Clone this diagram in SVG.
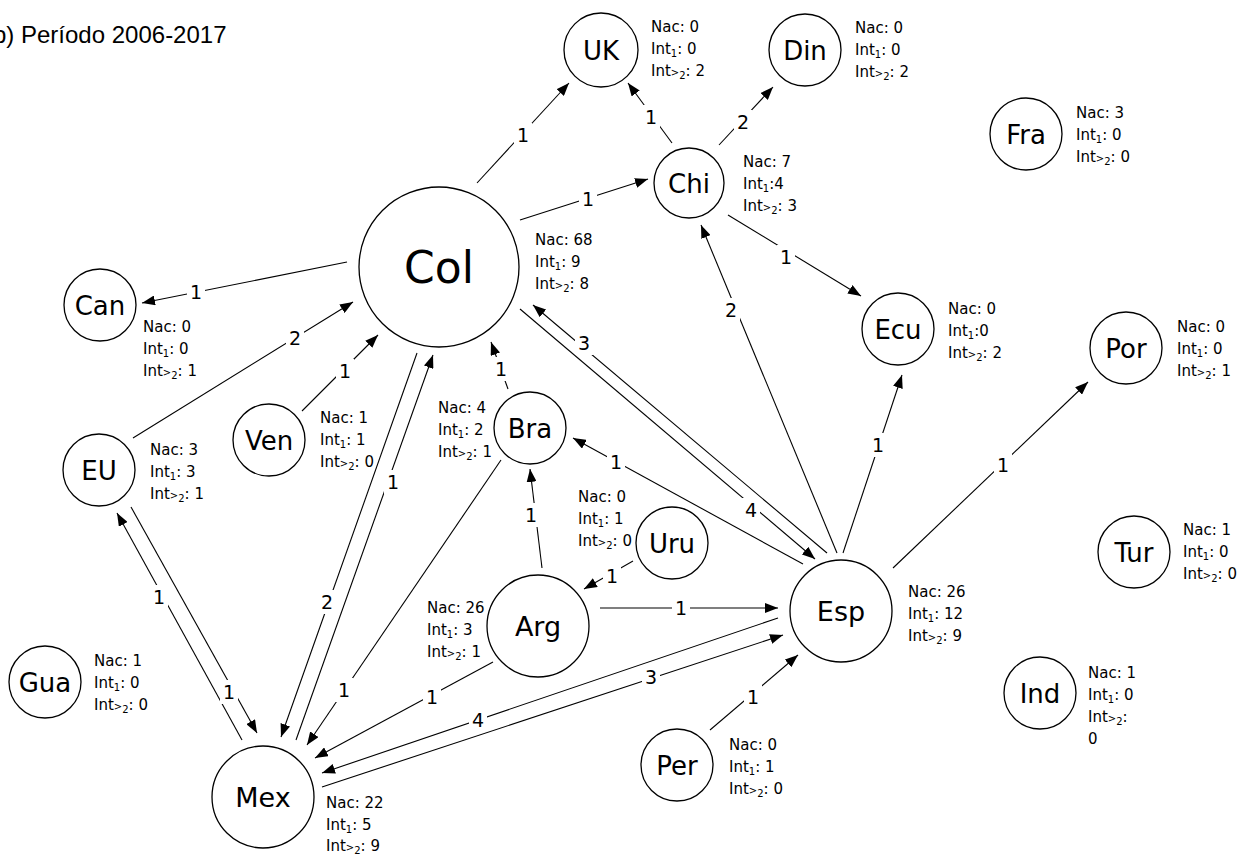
<svg xmlns="http://www.w3.org/2000/svg" width="1241" height="857" viewBox="0 0 1241 857">
<style>
.n circle{fill:#fff;stroke:#000;stroke-width:1.3}
.nl{font-family:"DejaVu Sans",sans-serif;font-size:26px;text-anchor:middle;fill:#000}
.big{font-size:27px}
.info{font-family:"DejaVu Sans",sans-serif;font-size:15px;fill:#000}
.s{font-size:10px}
.e line{stroke:#000;stroke-width:1.1;fill:none}
.e .a{marker-end:url(#ah)}
.lb rect{fill:#fff}
.lb text{font-family:"DejaVu Sans",sans-serif;font-size:19px;text-anchor:middle;fill:#000}
.title{font-family:"Liberation Sans",sans-serif;font-size:24px;fill:#000}
</style>
<defs>
<marker id="ah" markerUnits="userSpaceOnUse" markerWidth="14" markerHeight="10" refX="13" refY="5" orient="auto">
<path d="M0,0 L13,5 L0,10 z" fill="#000"/>
</marker>
</defs>
<rect width="1241" height="857" fill="#fff"/>
<text class="title" x="-7" y="43">b) Período 2006-2017</text>

<g id="connectors" class="e">
<line class="a" x1="477" y1="183" x2="569" y2="83"/>
<line class="a" x1="672" y1="143" x2="628" y2="83"/>
<line class="a" x1="719" y1="145" x2="773" y2="87"/>
<line class="a" x1="520" y1="220" x2="648" y2="179"/>
<line class="a" x1="728" y1="215" x2="861" y2="296"/>
<line class="a" x1="347" y1="262" x2="142" y2="303"/>
<line class="a" x1="133" y1="438" x2="353" y2="302"/>
<line class="a" x1="302" y1="411" x2="378" y2="335"/>
<line class="a" x1="508" y1="389" x2="491" y2="342"/>
<line class="a" x1="827" y1="553" x2="533" y2="305"/>
<line class="a" x1="520" y1="309" x2="815" y2="559"/>
<line class="a" x1="417" y1="353" x2="281" y2="737"/>
<line class="a" x1="296" y1="740" x2="433" y2="355"/>
<line class="a" x1="242" y1="740" x2="117" y2="513"/>
<line class="a" x1="131" y1="507" x2="257" y2="733"/>
<line class="a" x1="501" y1="460" x2="307" y2="745"/>
<line class="a" x1="493" y1="662" x2="315" y2="758"/>
<line class="a" x1="778" y1="618" x2="322" y2="773"/>
<line class="a" x1="322" y1="787" x2="783" y2="635"/>
<line class="a" x1="600" y1="608" x2="778" y2="608"/>
<line class="a" x1="633" y1="561" x2="584" y2="589"/>
<line class="a" x1="542" y1="568" x2="530" y2="469"/>
<line class="a" x1="803" y1="564" x2="573" y2="438"/>
<line class="a" x1="837" y1="553" x2="701" y2="225"/>
<line class="a" x1="843" y1="553" x2="902" y2="375"/>
<line class="a" x1="893" y1="568" x2="1088" y2="382"/>
<line class="a" x1="710" y1="730" x2="798" y2="655"/>
<g class="lb">
<rect x="514" y="123" width="18" height="24"/><text x="523" y="142">1</text>
<rect x="642" y="105" width="18" height="24"/><text x="651" y="124">1</text>
<rect x="734" y="110" width="18" height="24"/><text x="743" y="129">2</text>
<rect x="579" y="187" width="18" height="24"/><text x="588" y="206">1</text>
<rect x="777" y="245" width="18" height="24"/><text x="786" y="264">1</text>
<rect x="187" y="280" width="18" height="24"/><text x="196" y="299">1</text>
<rect x="286" y="326" width="18" height="24"/><text x="295" y="345">2</text>
<rect x="336" y="359" width="18" height="24"/><text x="345" y="378">1</text>
<rect x="492" y="357" width="18" height="24"/><text x="501" y="376">1</text>
<rect x="575" y="331" width="18" height="24"/><text x="584" y="350">3</text>
<rect x="742" y="498" width="18" height="24"/><text x="751" y="517">4</text>
<rect x="318" y="590" width="18" height="24"/><text x="327" y="609">2</text>
<rect x="384" y="470" width="18" height="24"/><text x="393" y="489">1</text>
<rect x="150" y="585" width="18" height="24"/><text x="159" y="604">1</text>
<rect x="220" y="680" width="18" height="24"/><text x="229" y="699">1</text>
<rect x="335" y="678" width="18" height="24"/><text x="344" y="697">1</text>
<rect x="423" y="685" width="18" height="24"/><text x="432" y="704">1</text>
<rect x="469" y="708" width="18" height="24"/><text x="478" y="727">4</text>
<rect x="642" y="665" width="18" height="24"/><text x="651" y="684">3</text>
<rect x="672" y="596" width="18" height="24"/><text x="681" y="615">1</text>
<rect x="603" y="564" width="18" height="24"/><text x="612" y="583">1</text>
<rect x="522" y="503" width="18" height="24"/><text x="531" y="522">1</text>
<rect x="607" y="450" width="18" height="24"/><text x="616" y="469">1</text>
<rect x="722" y="298" width="18" height="24"/><text x="731" y="317">2</text>
<rect x="869" y="433" width="18" height="24"/><text x="878" y="452">1</text>
<rect x="994" y="453" width="18" height="24"/><text x="1003" y="472">1</text>
<rect x="744" y="685" width="18" height="24"/><text x="753" y="704">1</text>
</g>
</g>

<g id="n-Col" class="n"><circle cx="439" cy="267" r="80"/><text class="nl" x="439" y="283" style="font-size:44px">Col</text>
<text class="info" x="535" y="245">Nac: 68</text><text class="info" x="535" y="267">Int<tspan class="s" dy="3">1</tspan><tspan dy="-3">: 9</tspan></text><text class="info" x="535" y="289">Int<tspan class="s">&gt;</tspan><tspan class="s" dy="3">2</tspan><tspan dy="-3">: 8</tspan></text></g>

<g id="n-UK" class="n"><circle cx="601" cy="50" r="37"/><text class="nl" x="601" y="60">UK</text>
<text class="info" x="651" y="32">Nac: 0</text><text class="info" x="651" y="54">Int<tspan class="s" dy="3">1</tspan><tspan dy="-3">: 0</tspan></text><text class="info" x="651" y="76">Int<tspan class="s">&gt;</tspan><tspan class="s" dy="3">2</tspan><tspan dy="-3">: 2</tspan></text></g>

<g id="n-Din" class="n"><circle cx="805" cy="50" r="36"/><text class="nl" x="805" y="60">Din</text>
<text class="info" x="855" y="33">Nac: 0</text><text class="info" x="855" y="55">Int<tspan class="s" dy="3">1</tspan><tspan dy="-3">: 0</tspan></text><text class="info" x="855" y="77">Int<tspan class="s">&gt;</tspan><tspan class="s" dy="3">2</tspan><tspan dy="-3">: 2</tspan></text></g>

<g id="n-Chi" class="n"><circle cx="689" cy="183" r="35"/><text class="nl" x="689" y="193">Chi</text>
<text class="info" x="743" y="167">Nac: 7</text><text class="info" x="743" y="189">Int<tspan class="s" dy="3">1</tspan><tspan dy="-3">:4</tspan></text><text class="info" x="743" y="211">Int<tspan class="s">&gt;</tspan><tspan class="s" dy="3">2</tspan><tspan dy="-3">: 3</tspan></text></g>

<g id="n-Fra" class="n"><circle cx="1026" cy="134" r="36"/><text class="nl" x="1026" y="144">Fra</text>
<text class="info" x="1076" y="118">Nac: 3</text><text class="info" x="1076" y="140">Int<tspan class="s" dy="3">1</tspan><tspan dy="-3">: 0</tspan></text><text class="info" x="1076" y="162">Int<tspan class="s">&gt;</tspan><tspan class="s" dy="3">2</tspan><tspan dy="-3">: 0</tspan></text></g>

<g id="n-Can" class="n"><circle cx="100" cy="305" r="36"/><text class="nl" x="100" y="315">Can</text>
<text class="info" x="143" y="332">Nac: 0</text><text class="info" x="143" y="354">Int<tspan class="s" dy="3">1</tspan><tspan dy="-3">: 0</tspan></text><text class="info" x="143" y="376">Int<tspan class="s">&gt;</tspan><tspan class="s" dy="3">2</tspan><tspan dy="-3">: 1</tspan></text></g>

<g id="n-EU" class="n"><circle cx="99" cy="470" r="36"/><text class="nl" x="99" y="480">EU</text>
<text class="info" x="150" y="455">Nac: 3</text><text class="info" x="150" y="477">Int<tspan class="s" dy="3">1</tspan><tspan dy="-3">: 3</tspan></text><text class="info" x="150" y="499">Int<tspan class="s">&gt;</tspan><tspan class="s" dy="3">2</tspan><tspan dy="-3">: 1</tspan></text></g>

<g id="n-Ven" class="n"><circle cx="269" cy="440" r="36"/><text class="nl" x="269" y="450">Ven</text>
<text class="info" x="320" y="423">Nac: 1</text><text class="info" x="320" y="445">Int<tspan class="s" dy="3">1</tspan><tspan dy="-3">: 1</tspan></text><text class="info" x="320" y="467">Int<tspan class="s">&gt;</tspan><tspan class="s" dy="3">2</tspan><tspan dy="-3">: 0</tspan></text></g>

<g id="n-Bra" class="n"><circle cx="530" cy="428" r="36"/><text class="nl" x="530" y="438">Bra</text>
<text class="info" x="438" y="413">Nac: 4</text><text class="info" x="438" y="435">Int<tspan class="s" dy="3">1</tspan><tspan dy="-3">: 2</tspan></text><text class="info" x="438" y="457">Int<tspan class="s">&gt;</tspan><tspan class="s" dy="3">2</tspan><tspan dy="-3">: 1</tspan></text></g>

<g id="n-Uru" class="n"><circle cx="672" cy="543" r="36"/><text class="nl" x="672" y="553">Uru</text>
<text class="info" x="578" y="502">Nac: 0</text><text class="info" x="578" y="524">Int<tspan class="s" dy="3">1</tspan><tspan dy="-3">: 1</tspan></text><text class="info" x="578" y="546">Int<tspan class="s">&gt;</tspan><tspan class="s" dy="3">2</tspan><tspan dy="-3">: 0</tspan></text></g>

<g id="n-Arg" class="n"><circle cx="538" cy="626" r="51"/><text class="nl big" x="538" y="636">Arg</text>
<text class="info" x="427" y="613">Nac: 26</text><text class="info" x="427" y="635">Int<tspan class="s" dy="3">1</tspan><tspan dy="-3">: 3</tspan></text><text class="info" x="427" y="657">Int<tspan class="s">&gt;</tspan><tspan class="s" dy="3">2</tspan><tspan dy="-3">: 1</tspan></text></g>

<g id="n-Esp" class="n"><circle cx="841" cy="611" r="51"/><text class="nl big" x="841" y="621">Esp</text>
<text class="info" x="908" y="597">Nac: 26</text><text class="info" x="908" y="619">Int<tspan class="s" dy="3">1</tspan><tspan dy="-3">: 12</tspan></text><text class="info" x="908" y="641">Int<tspan class="s">&gt;</tspan><tspan class="s" dy="3">2</tspan><tspan dy="-3">: 9</tspan></text></g>

<g id="n-Ecu" class="n"><circle cx="898" cy="329" r="36"/><text class="nl" x="898" y="339">Ecu</text>
<text class="info" x="948" y="314">Nac: 0</text><text class="info" x="948" y="336">Int<tspan class="s" dy="3">1</tspan><tspan dy="-3">:0</tspan></text><text class="info" x="948" y="358">Int<tspan class="s">&gt;</tspan><tspan class="s" dy="3">2</tspan><tspan dy="-3">: 2</tspan></text></g>

<g id="n-Por" class="n"><circle cx="1126" cy="348" r="36"/><text class="nl" x="1126" y="358">Por</text>
<text class="info" x="1177" y="332">Nac: 0</text><text class="info" x="1177" y="354">Int<tspan class="s" dy="3">1</tspan><tspan dy="-3">: 0</tspan></text><text class="info" x="1177" y="376">Int<tspan class="s">&gt;</tspan><tspan class="s" dy="3">2</tspan><tspan dy="-3">: 1</tspan></text></g>

<g id="n-Tur" class="n"><circle cx="1134" cy="552" r="36"/><text class="nl" x="1134" y="562">Tur</text>
<text class="info" x="1183" y="535">Nac: 1</text><text class="info" x="1183" y="557">Int<tspan class="s" dy="3">1</tspan><tspan dy="-3">: 0</tspan></text><text class="info" x="1183" y="579">Int<tspan class="s">&gt;</tspan><tspan class="s" dy="3">2</tspan><tspan dy="-3">: 0</tspan></text></g>

<g id="n-Ind" class="n"><circle cx="1040" cy="693" r="36"/><text class="nl" x="1040" y="703">Ind</text>
<text class="info" x="1088" y="678">Nac: 1</text><text class="info" x="1088" y="700">Int<tspan class="s" dy="3">1</tspan><tspan dy="-3">: 0</tspan></text><text class="info" x="1088" y="722">Int<tspan class="s">&gt;</tspan><tspan class="s" dy="3">2</tspan><tspan dy="-3">:</tspan></text><text class="info" x="1088" y="744">0</text></g>

<g id="n-Gua" class="n"><circle cx="45" cy="682" r="36"/><text class="nl" x="45" y="692">Gua</text>
<text class="info" x="94" y="666">Nac: 1</text><text class="info" x="94" y="688">Int<tspan class="s" dy="3">1</tspan><tspan dy="-3">: 0</tspan></text><text class="info" x="94" y="710">Int<tspan class="s">&gt;</tspan><tspan class="s" dy="3">2</tspan><tspan dy="-3">: 0</tspan></text></g>

<g id="n-Per" class="n"><circle cx="677" cy="765" r="36"/><text class="nl" x="677" y="775">Per</text>
<text class="info" x="729" y="750">Nac: 0</text><text class="info" x="729" y="772">Int<tspan class="s" dy="3">1</tspan><tspan dy="-3">: 1</tspan></text><text class="info" x="729" y="794">Int<tspan class="s">&gt;</tspan><tspan class="s" dy="3">2</tspan><tspan dy="-3">: 0</tspan></text></g>

<g id="n-Mex" class="n"><circle cx="263" cy="797" r="51"/><text class="nl big" x="263" y="807">Mex</text>
<text class="info" x="326" y="808">Nac: 22</text><text class="info" x="326" y="830">Int<tspan class="s" dy="3">1</tspan><tspan dy="-3">: 5</tspan></text><text class="info" x="326" y="851">Int<tspan class="s">&gt;</tspan><tspan class="s" dy="3">2</tspan><tspan dy="-3">: 9</tspan></text></g>
</svg>
